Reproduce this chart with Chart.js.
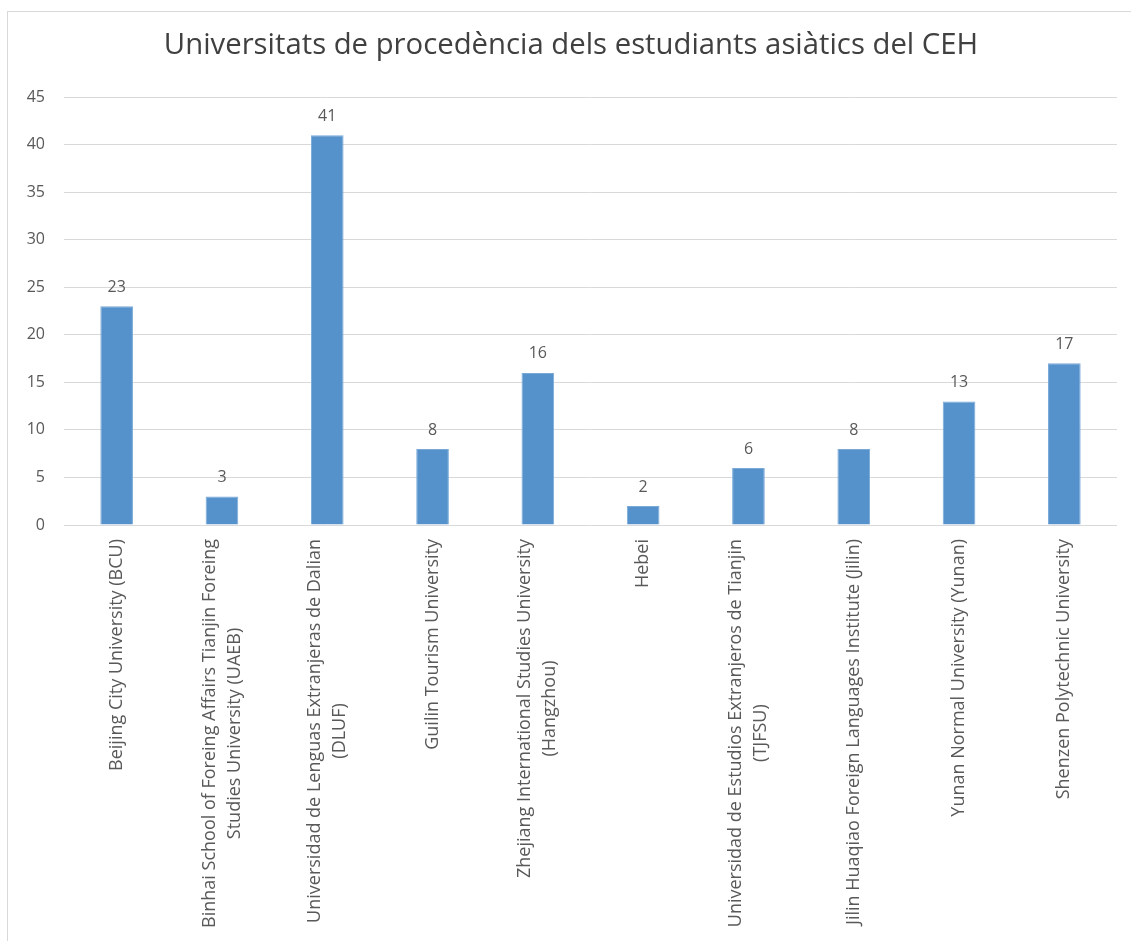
<!DOCTYPE html>
<html lang="ca">
<head>
    <meta charset="UTF-8">
    <title>Universitats de procedència</title>
    <script src="https://cdn.jsdelivr.net/npm/chart.js"></script>
    <style>
        html, body {
            margin: 0;
            padding: 0;
            background: #fff;
            overflow: hidden;
        }
        .wrap {
            position: relative;
            width: 1131px;
            height: 941px;
        }
        /* marc del gràfic */
        .frame {
            position: absolute;
            left: 7px;
            top: 11px;
            width: 1140px;
            height: 950px;
            border: 1px solid #d9d9d9;
            box-sizing: border-box;
        }
        canvas {
            position: absolute;
            left: 0;
            top: 0;
        }
    </style>
</head>
<body>
<div class="wrap">
    <div class="frame"></div>
    <canvas id="chart" width="1131" height="941"></canvas>
</div>
<script>
    // Dades
    const universitats = [
        ['Beijing City University (BCU)'],
        ['Binhai School of Foreing Affairs Tianjin Foreing', 'Studies University (UAEB)'],
        ['Universidad de Lenguas Extranjeras de Dalian', '(DLUF)'],
        ['Guilin Tourism University'],
        ['Zhejiang International Studies University', '(Hangzhou)'],
        ['Hebei'],
        ['Universidad de Estudios Extranjeros de Tianjin', '(TJFSU)'],
        ['Jilin Huaqiao Foreign Languages Institute (Jilin)'],
        ['Yunan Normal University (Yunan)'],
        ['Shenzen Polytechnic University']
    ];
    const estudiants = [23, 3, 41, 8, 16, 2, 6, 8, 13, 17];
    const yMin = 0, yMax = 45, yStep = 5;

    const FONT = "'Open Sans', sans-serif";

    // etiquetes de valor damunt de cada barra
    const valueLabels = {
        id: 'valueLabels',
        afterDatasetsDraw(chart) {
            const ctx = chart.ctx;
            const meta = chart.getDatasetMeta(0);
            ctx.save();
            ctx.font = '16px ' + FONT;
            ctx.fillStyle = '#595959';
            ctx.textAlign = 'center';
            ctx.textBaseline = 'middle';
            meta.data.forEach((bar, i) => {
                ctx.fillText(String(estudiants[i]), bar.x, bar.y - 19);
            });
            ctx.restore();
        }
    };

    // etiquetes de l'eix X girades 90°, amb línies centrades (com Excel)
    const xLabels = {
        id: 'xLabels',
        afterDraw(chart) {
            const ctx = chart.ctx;
            const xs = chart.scales.x;
            const top = xs.top + 14;
            const lh = 25;
            ctx.save();
            ctx.font = '18px ' + FONT;
            ctx.fillStyle = '#595959';
            ctx.textAlign = 'center';
            ctx.textBaseline = 'middle';
            universitats.forEach((lines, i) => {
                const x = xs.getPixelForTick(i);
                const w = Math.max(...lines.map(l => ctx.measureText(l).width));
                ctx.save();
                ctx.translate(x, top);
                ctx.rotate(-Math.PI / 2);
                lines.forEach((l, j) => {
                    ctx.fillText(l, -w / 2, (j - (lines.length - 1) / 2) * lh);
                });
                ctx.restore();
            });
            ctx.restore();
        }
    };

    new Chart(document.getElementById('chart'), {
        type: 'bar',
        data: {
            labels: universitats,
            datasets: [{
                data: estudiants,
                backgroundColor: '#5592cb',
                borderColor: '#7aa9d8',
                borderWidth: 1,
                categoryPercentage: 1,
                barPercentage: 0.31
            }]
        },
        options: {
            responsive: false,
            animation: false,
            layout: { padding: { left: 25, right: 14, top: 0, bottom: 0 } },
            plugins: {
                legend: { display: false },
                tooltip: { enabled: false },
                title: {
                    display: true,
                    text: 'Universitats de procedència dels estudiants asiàtics del CEH',
                    color: '#404040',
                    font: { family: FONT, size: 29.3, weight: 'normal' },
                    padding: { top: 28, bottom: 34 }
                }
            },
            scales: {
                x: {
                    grid: { display: false },
                    border: { display: false },
                    ticks: { display: false },
                    afterFit(scale) { scale.height = 416; }
                },
                y: {
                    min: yMin,
                    max: yMax,
                    ticks: {
                        stepSize: yStep,
                        color: '#595959',
                        padding: 19,
                        font: { family: FONT, size: 16 }
                    },
                    grid: { color: '#d9d9d9', drawTicks: false },
                    border: { display: false },
                    afterFit(scale) { scale.width = 39; }
                }
            }
        },
        plugins: [valueLabels, xLabels]
    });
</script>
</body>
</html>
